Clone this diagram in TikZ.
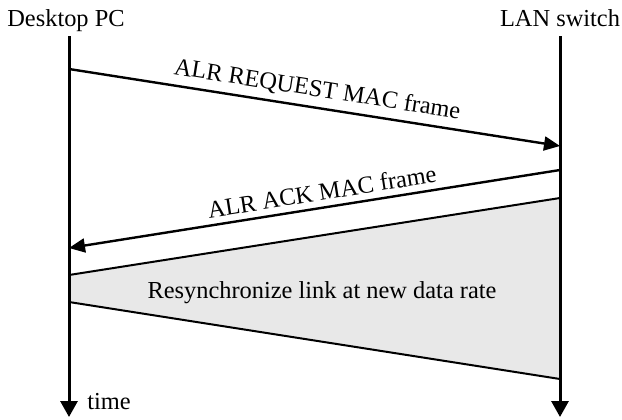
\documentclass[tikz,border=0pt]{standalone}
\usepackage{fontspec}
\setmainfont{Liberation Serif}
\usetikzlibrary{positioning,arrows.meta}
\tikzstyle{sequence} = [x = 0.5pt, y = -0.5pt]
\definecolor{phaseColor}{RGB}{232,232,232}
\tikzstyle{lifeLineStyle} = [line width=1.5pt, -{Triangle[length=8pt,width=8.5pt]}]
\tikzstyle{frameStyle} = [line width=1.2pt, -{Triangle[length=8pt,width=7pt]}]
\tikzstyle{phaseStyle} = [fill=phaseColor, draw=black, line width=1pt]
\tikzstyle{labelText} = [font=\fontsize{12.2}{14}\selectfont, inner sep=1pt]
\newcommand{\lifeLine}[4]{
  \coordinate (#1Top) at (#2, 36);
  \coordinate (#1Bottom) at (#2, 417);
  \draw [lifeLineStyle] (#1Top) -- (#1Bottom);
  \node [labelText, anchor=base] (#1Label) at (#3, 26) {#4};
}
\newcommand{\frameArrow}[4]{\draw [frameStyle] (#1) -- (#2) node [labelText, pos=#4, above = 2pt, sloped] {#3};}

\begin{document}
\begin{tikzpicture}[sequence]
            \useasboundingbox (0,0) rectangle (622,419);
            % resynchronization phase
            \coordinate (resyncLeftTop) at (69,275);
            \coordinate (resyncRightTop) at (560,198);
            \coordinate (resyncRightBottom) at (560,379);
            \coordinate (resyncLeftBottom) at (69,302);
            \filldraw [phaseStyle] (resyncLeftTop) -- (resyncRightTop) -- (resyncRightBottom) -- (resyncLeftBottom) -- cycle;
            \node [labelText, anchor=base] (resyncText) at (322,298) {Resynchronize link at new data rate};

            \lifeLine{desktop}{69}{66}{Desktop PC}
            \lifeLine{switch}{560}{560}{LAN switch}
            \node [labelText, anchor=base west, inner sep=0pt] (timeLabel) at (87,409) {time};

            % frames
            \coordinate (requestStart) at (69,69);
            \coordinate (requestEnd) at (560,146);
            \coordinate (ackStart) at (560,170);
            \coordinate (ackEnd) at (69,248);
            \frameArrow{requestStart}{requestEnd}{ALR REQUEST MAC frame}{0.5}
            \frameArrow{ackStart}{ackEnd}{ALR ACK MAC frame}{0.48}
          \end{tikzpicture}
\end{document}
